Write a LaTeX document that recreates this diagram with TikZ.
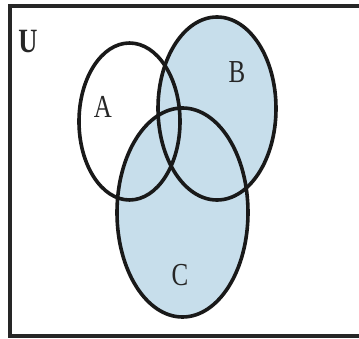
\documentclass[tikz,border=0pt]{standalone}
\usepackage{fontspec}
\setmainfont{Liberation Serif}
\usepackage{tikz}
\definecolor{vennblue}{RGB}{199,222,235}
\tikzset{
  setline/.style={line width=3.6pt, black!90},
  setlabel/.style={font=\fontsize{32}{32}\selectfont, xscale=0.78, black!85}
}

\begin{document}
\begin{tikzpicture}[x=1pt, y=-1pt]
  \useasboundingbox (0,0) rectangle (359,339);
  % shaded region: B union C
  \fill[vennblue] (217,108.5) ellipse [x radius=59, y radius=91.5];
  \fill[vennblue] (182.5,212.5) ellipse [x radius=65.5, y radius=104.5];
  % universe
  \draw[line width=4pt, black!85] (10,6.5) rectangle (361,336);
  % outlines
  \draw[setline] (129.5,121.5) ellipse [x radius=50.5, y radius=78.5];
  \draw[setline] (217,108.5) ellipse [x radius=59, y radius=91.5];
  \draw[setline] (182.5,212.5) ellipse [x radius=65.5, y radius=104.5];
  \node[setlabel, font=\fontsize{34}{34}\selectfont\bfseries] (labU) at (28,42) {U};
  \node[setlabel] (labA) at (103,107) {A};
  \node[setlabel] (labB) at (237,72) {B};
  \node[setlabel] (labC) at (180,275) {C};
\end{tikzpicture}
\end{document}
